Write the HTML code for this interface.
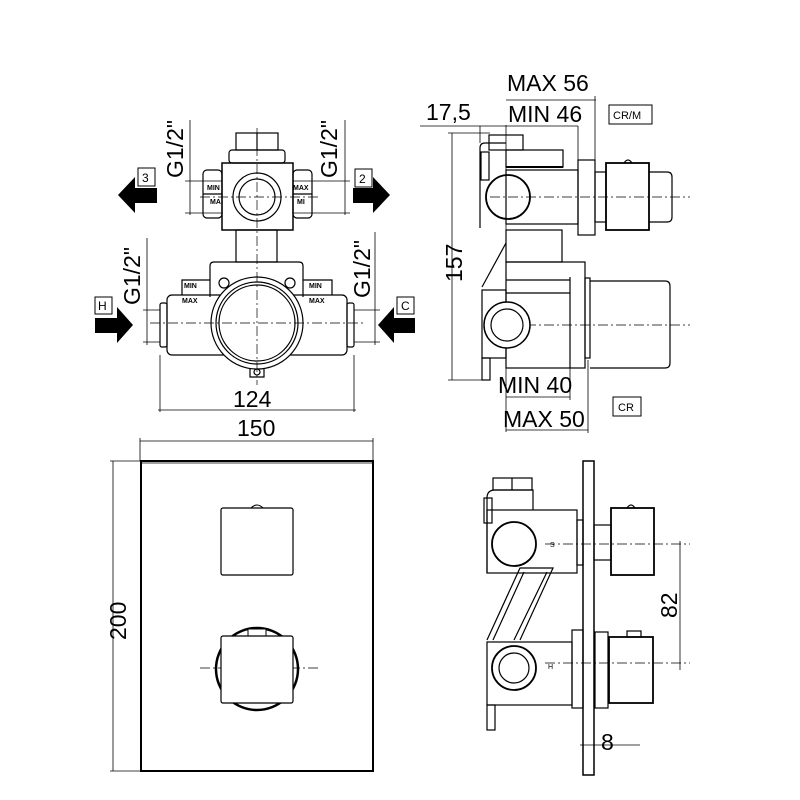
<!DOCTYPE html>
<html><head><meta charset="utf-8"><style>
html,body{margin:0;padding:0;background:#fff}
svg{display:block}
text{font-family:"Liberation Sans","DejaVu Sans",sans-serif;fill:#000}
</style></head><body>
<svg width="800" height="800" viewBox="0 0 800 800" xmlns="http://www.w3.org/2000/svg">
<g fill="none" stroke="#000" stroke-width="1.2">
<rect x="236" y="133" width="42" height="17"/>
<line x1="257" y1="133" x2="257" y2="150"/>
<rect x="229" y="150" width="56" height="13" rx="3"/>
<rect x="203" y="170" width="19" height="48" rx="4"/>
<rect x="293" y="170" width="19" height="48" rx="4"/>
<line x1="203" y1="194" x2="222" y2="194"/>
<line x1="293" y1="194" x2="312" y2="194"/>
<rect x="222" y="163" width="71" height="67" stroke-width="1.5"/>
<circle cx="257" cy="197" r="24"/>
<circle cx="257" cy="197" r="18"/>
<rect x="236" y="230" width="41" height="32"/>
<path d="M210 297 V266 q0-4 4-4 H299 q4 0 4 4 V297"/>
<rect x="167" y="295" width="180" height="60" rx="5"/>
<rect x="160" y="303" width="7" height="44" rx="2"/>
<rect x="347" y="303" width="7" height="44" rx="2"/>
<path d="M182 295 V280 H210 M332 295 V280 H303"/>
<circle cx="257" cy="323" r="46" fill="#fff"/>
<circle cx="257" cy="323" r="41"/>
<circle cx="257" cy="323" r="38"/>
<circle cx="224" cy="283" r="5"/>
<circle cx="290" cy="283" r="5"/>
<path d="M250 369 V377 H264 V369"/>
<circle cx="257" cy="372" r="3"/>
</g>
<g font-size="7" font-weight="bold">
<text x="207" y="190">MIN</text><text x="293" y="190">MAX</text>
<text x="210" y="204">MA</text><text x="297" y="204">MI</text>
<text x="184" y="288">MIN</text><text x="309" y="288">MIN</text>
<text x="182" y="303">MAX</text><text x="309" y="303">MAX</text>
</g>
<g stroke="#000" stroke-width="0.7" stroke-dasharray="10,3,2,3" fill="none">
<line x1="257" y1="128" x2="257" y2="385"/>
<line x1="200" y1="197" x2="320" y2="197"/>
<line x1="150" y1="323" x2="365" y2="323"/>
<line x1="200" y1="668" x2="320" y2="668"/>
<line x1="545" y1="544" x2="690" y2="544"/>
<line x1="545" y1="663" x2="690" y2="663"/>
<line x1="490" y1="197" x2="690" y2="197"/>
<line x1="490" y1="325" x2="690" y2="325"/>
</g>
<g stroke="#000" stroke-width="0.8" fill="none">
<line x1="190" y1="120" x2="190" y2="215"/><line x1="185" y1="181" x2="222" y2="181"/><line x1="185" y1="213" x2="222" y2="213"/>
<line x1="345" y1="120" x2="345" y2="215"/><line x1="293" y1="181" x2="350" y2="181"/><line x1="293" y1="213" x2="350" y2="213"/>
<line x1="147" y1="238" x2="147" y2="345"/><line x1="143" y1="310" x2="160" y2="310"/><line x1="143" y1="342" x2="160" y2="342"/>
<line x1="375" y1="232" x2="375" y2="345"/><line x1="354" y1="310" x2="380" y2="310"/><line x1="354" y1="342" x2="380" y2="342"/>
<line x1="160" y1="355" x2="160" y2="412"/><line x1="354" y1="355" x2="354" y2="412"/>
<line x1="158" y1="410" x2="356" y2="410"/>
<line x1="140" y1="441" x2="373" y2="441"/><line x1="140" y1="438" x2="140" y2="461"/><line x1="373" y1="438" x2="373" y2="461"/>
<line x1="113" y1="461" x2="113" y2="771"/><line x1="110" y1="461" x2="140" y2="461"/><line x1="110" y1="771" x2="140" y2="771"/>
</g>
<g fill="#000">
<path d="M118 195 L135 177 V188 H157 V203 H135 V213 Z"/>
<path d="M390 195 L373 177 V188 H353 V203 H373 V213 Z"/>
<path d="M133 325 L117 307 V318 H95 V333 H117 V343 Z"/>
<path d="M378 325 L394 307 V318 H415 V333 H394 V343 Z"/>
</g>
<g fill="#fff" stroke="#000" stroke-width="1">
<rect x="138" y="168" width="17" height="18"/><rect x="355" y="169" width="17" height="18"/>
<rect x="95" y="297" width="17" height="17"/><rect x="397" y="297" width="17" height="17"/>
</g>
<g font-size="12">
<text x="142" y="182">3</text><text x="359" y="183">2</text>
<text x="98" y="310">H</text><text x="401" y="310">C</text>
</g>
<g font-size="23">
<text transform="translate(183,178) rotate(-90)">G1/2"</text>
<text transform="translate(337,178) rotate(-90)">G1/2"</text>
<text transform="translate(140,305) rotate(-90)">G1/2"</text>
<text transform="translate(370,298) rotate(-90)">G1/2"</text>
<text x="233" y="407">124</text>
<text x="237" y="436">150</text>
<text transform="translate(126,640) rotate(-90)">200</text>
</g>
<g fill="none" stroke="#000">
<rect x="141" y="461" width="232" height="310" stroke-width="2"/>
<line x1="141" y1="463" x2="373" y2="463" stroke-width="0.8"/>
<path d="M251 508 q6-6 12 0" stroke-width="1"/>
<rect x="221" y="508" width="72" height="67" rx="2" stroke-width="1.2"/>
<circle cx="257" cy="669" r="41" stroke-width="2.5"/>
<rect x="248" y="629" width="18" height="8" fill="#fff" stroke-width="1"/>
<rect x="221" y="636" width="72" height="67" rx="2" fill="#fff" stroke-width="1.2"/>
</g>
<g fill="none" stroke="#000" stroke-width="1.2">
<line x1="506" y1="125" x2="506" y2="432" stroke-width="0.8"/>
<rect x="489" y="135" width="34" height="15"/>
<path d="M480 228 V148 q0-5 5-5 H506"/>
<rect x="481" y="152" width="8" height="28"/>
<rect x="506" y="150" width="57" height="17"/>
<rect x="506" y="170" width="72" height="54"/>
<line x1="506" y1="167" x2="563" y2="167" stroke-width="2"/>
<circle cx="508" cy="197" r="22" stroke-width="1.8"/>
<rect x="578" y="160" width="17" height="75"/>
<rect x="595" y="172" width="11" height="50"/>
<rect x="606" y="163" width="43" height="67" stroke-width="1.8"/>
<path d="M624 163 q4-6 8 0"/>
<path d="M649 172 H667 q5 0 5 5 V217 q0 5-5 5 H649"/>
<rect x="506" y="230" width="56" height="32"/>
<path d="M482 287 L506 243"/>
<rect x="482" y="290" width="24" height="68"/>
<rect x="506" y="262" width="79" height="106"/>
<line x1="506" y1="280" x2="570" y2="280"/>
<line x1="506" y1="293" x2="570" y2="293"/>
<line x1="570" y1="277" x2="570" y2="368"/>
<circle cx="507" cy="325" r="23" fill="#fff" stroke-width="1.5"/>
<circle cx="507" cy="325" r="16"/>
<rect x="585" y="278" width="5" height="80"/>
<path d="M590 281 H665 q5 0 5 5 V363 q0 5-5 5 H590"/>
<rect x="482" y="358" width="8" height="22"/>
</g>
<g stroke="#000" stroke-width="0.8" fill="none">
<line x1="452" y1="133" x2="452" y2="380"/><line x1="448" y1="133" x2="490" y2="133"/><line x1="448" y1="380" x2="485" y2="380"/>
<line x1="420" y1="126" x2="578" y2="126"/><line x1="480" y1="126" x2="480" y2="143"/>
<line x1="578" y1="126" x2="578" y2="170"/>
<line x1="506" y1="100" x2="596" y2="100"/><line x1="595" y1="96" x2="595" y2="160"/>
<line x1="506" y1="397" x2="570" y2="397"/><line x1="570" y1="368" x2="570" y2="400"/>
<line x1="506" y1="430" x2="588" y2="430"/><line x1="588" y1="360" x2="588" y2="433"/>
</g>
<g font-size="23">
<text x="507" y="91">MAX 56</text>
<text x="508" y="122">MIN 46</text>
<text x="426" y="120">17,5</text>
<text transform="translate(462,282) rotate(-90)">157</text>
<text x="498" y="393">MIN 40</text>
<text x="503" y="427">MAX 50</text>
</g>
<g fill="#fff" stroke="#000" stroke-width="1">
<rect x="609" y="105" width="43" height="19"/><rect x="613" y="397" width="28" height="19"/>
</g>
<g font-size="11"><text x="613" y="119">CR/M</text><text x="618" y="411">CR</text></g>
<g fill="none" stroke="#000" stroke-width="1.2">
<rect x="583" y="461" width="11" height="314" stroke-width="1.5"/>
<rect x="493" y="478" width="39" height="12"/>
<line x1="512" y1="478" x2="512" y2="490"/>
<path d="M487 573 V498 q0-8 8-8 H533 V510"/>
<rect x="484" y="498" width="8" height="25"/>
<rect x="487" y="510" width="90" height="63"/>
<circle cx="514" cy="544" r="22" fill="#fff" stroke-width="1.8"/>
<rect x="577" y="520" width="6" height="45"/>
<path d="M487 640 L520 568 H553 L520 640"/>
<path d="M493 640 L524 572 M514 640 L547 572"/>
<rect x="487" y="642" width="85" height="63"/>
<circle cx="514" cy="668" r="22" fill="#fff" stroke-width="1.8"/>
<circle cx="514" cy="668" r="15"/>
<rect x="572" y="630" width="11" height="78"/>
<rect x="487" y="705" width="8" height="25"/>
<rect x="594" y="525" width="17" height="35"/>
<rect x="611" y="508" width="43" height="67" stroke-width="1.8"/>
<path d="M627 508 q4-6 8 0"/>
<rect x="595" y="632" width="13" height="76"/>
<rect x="609" y="637" width="44" height="66" stroke-width="1.8"/>
<rect x="627" y="631" width="14" height="6"/>
</g>
<g stroke="#000" stroke-width="0.8" fill="none">
<line x1="680" y1="541" x2="680" y2="670"/>
<line x1="580" y1="745" x2="640" y2="745"/>
</g>
<g font-size="23">
<text transform="translate(677,618) rotate(-90)">82</text>
<text x="601" y="750">8</text>
</g>
<g font-size="7"><text x="550" y="547">S</text><text x="548" y="669">H</text></g>
</svg>
</body></html>
